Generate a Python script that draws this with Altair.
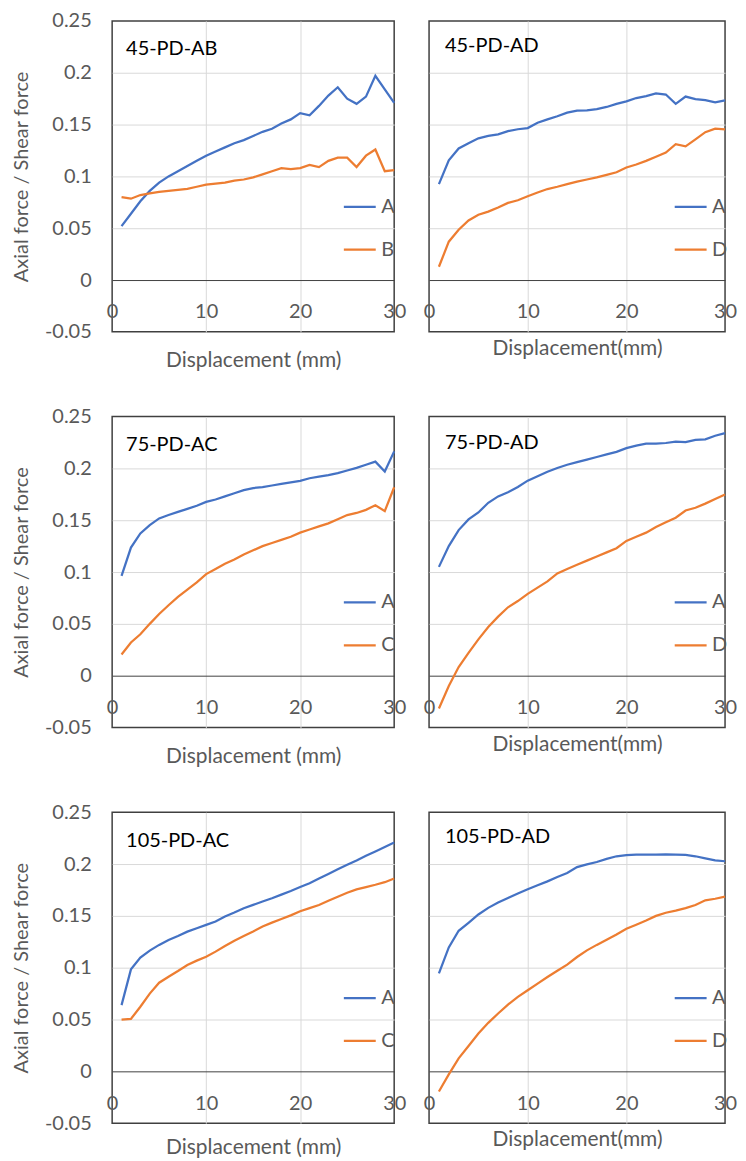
import altair as alt
import pandas as pd

disp = list(range(1, 31))

p45ab_A = [0.052, 0.064, 0.076, 0.086, 0.094, 0.100, 0.105, 0.110, 0.115, 0.120,
           0.124, 0.128, 0.132, 0.135, 0.139, 0.143, 0.146, 0.151, 0.155, 0.161,
           0.159, 0.168, 0.178, 0.186, 0.175, 0.170, 0.177, 0.197, 0.184, 0.171]
p45ab_B = [0.080, 0.0785, 0.082, 0.0836, 0.085, 0.086, 0.087, 0.088, 0.090, 0.092,
           0.093, 0.094, 0.096, 0.097, 0.099, 0.102, 0.105, 0.108, 0.107, 0.108,
           0.111, 0.109, 0.115, 0.118, 0.118, 0.109, 0.120, 0.126, 0.105, 0.106]

p45ad_A = [0.0926, 0.1156, 0.127, 0.132, 0.1367, 0.139, 0.1405, 0.1437, 0.1455, 0.1466,
           0.1517, 0.155, 0.158, 0.1615, 0.1635, 0.1637, 0.165, 0.167, 0.170, 0.1724,
           0.1756, 0.1775, 0.180, 0.179, 0.170, 0.177, 0.1745, 0.1735, 0.1715, 0.1734]
p45ad_D = [0.0128, 0.037, 0.0485, 0.0575, 0.063, 0.066, 0.070, 0.0744, 0.077, 0.0808,
           0.0845, 0.0878, 0.090, 0.0925, 0.095, 0.097, 0.099, 0.1015, 0.104, 0.1086,
           0.1115, 0.115, 0.119, 0.123, 0.131, 0.129, 0.1357, 0.1427, 0.146, 0.1453]

p75ac_A = [0.0963, 0.1236, 0.1373, 0.1453, 0.1517, 0.155, 0.158, 0.161, 0.164, 0.1677,
           0.170, 0.173, 0.176, 0.179, 0.181, 0.182, 0.1835, 0.185, 0.1865, 0.188,
           0.1905, 0.192, 0.1935, 0.1955, 0.198, 0.2005, 0.2035, 0.2065, 0.197, 0.2164]
p75ac_C = [0.0205, 0.032, 0.040, 0.050, 0.0595, 0.068, 0.076, 0.083, 0.090, 0.098,
           0.103, 0.108, 0.112, 0.117, 0.121, 0.125, 0.128, 0.131, 0.134, 0.138,
           0.141, 0.144, 0.147, 0.151, 0.155, 0.157, 0.160, 0.1645, 0.1588, 0.1818]

p75ad_A = [0.105, 0.125, 0.1405, 0.1508, 0.1575, 0.1668, 0.173, 0.177, 0.182, 0.1882,
           0.1925, 0.1967, 0.2004, 0.2035, 0.206, 0.2085, 0.211, 0.2135, 0.216, 0.2196,
           0.222, 0.2238, 0.224, 0.2245, 0.2258, 0.2254, 0.2275, 0.228, 0.2315, 0.234]
p75ad_D = [-0.0317, -0.010, 0.0083, 0.022, 0.035, 0.047, 0.057, 0.066, 0.072, 0.079,
           0.085, 0.091, 0.0986, 0.103, 0.107, 0.111, 0.115, 0.119, 0.123, 0.130,
           0.134, 0.138, 0.1434, 0.148, 0.1524, 0.1594, 0.162, 0.166, 0.1705, 0.1748]

p105ac_A = [0.0639, 0.0984, 0.1097, 0.1165, 0.122, 0.1268, 0.1306, 0.1348, 0.138, 0.1413,
            0.1445, 0.1494, 0.1532, 0.1574, 0.1606, 0.1639, 0.167, 0.1705, 0.174, 0.1778,
            0.1815, 0.186, 0.1905, 0.195, 0.1993, 0.2035, 0.208, 0.2122, 0.2165, 0.2208]
p105ac_C = [0.050, 0.0506, 0.0623, 0.075, 0.0855, 0.0913, 0.0968, 0.1026, 0.1068, 0.1106,
            0.1155, 0.121, 0.126, 0.1306, 0.135, 0.1397, 0.1435, 0.147, 0.1505, 0.1544,
            0.1575, 0.1605, 0.1645, 0.1685, 0.1723, 0.1755, 0.1778, 0.180, 0.1825, 0.186]

p105ad_A = [0.0945, 0.1196, 0.1356, 0.1433, 0.1513, 0.1577, 0.1628, 0.1673, 0.1715, 0.1757,
            0.1795, 0.1833, 0.1875, 0.1913, 0.197, 0.1997, 0.202, 0.205, 0.2075, 0.2085,
            0.209, 0.209, 0.209, 0.2094, 0.209, 0.2088, 0.2075, 0.2055, 0.2035, 0.2027]
p105ad_D = [-0.0195, -0.003, 0.0125, 0.0244, 0.0365, 0.0468, 0.0558, 0.0644, 0.0718, 0.0782,
            0.0846, 0.091, 0.0971, 0.1029, 0.1103, 0.1167, 0.122, 0.127, 0.132, 0.1375,
            0.1415, 0.1455, 0.150, 0.153, 0.155, 0.1575, 0.1605, 0.165, 0.1665, 0.1685]

y_ticks = [-0.05, 0, 0.05, 0.1, 0.15, 0.2, 0.25]
x_ticks = [0, 10, 20, 30]

BLUE = "#4472C4"
ORANGE = "#ED7D31"
GRAY = "#595959"
FRAME = "#404040"
GRID = "#D9D9D9"
FONT = "Lato"
FS = 20


def panel(name, second, a, b, left, xtitle, width, title_x, title_y, leg_x, leg_y,
          xtitle_y):
    df = pd.DataFrame({
        "d": disp + disp,
        "v": a + b,
        "s": ["A"] * len(a) + [second] * len(b),
    })
    xaxis = alt.Axis(values=x_ticks, grid=True, gridColor=GRID,
                     gridOpacity={"condition": {"test": "datum.value == 0 || datum.value == 30",
                                                "value": 0}, "value": 1},
                     domain=True, domainColor=FRAME, domainWidth=1,
                     ticks=False, tickSize=0, offset=-52,
                     labelFlush=False, labelPadding=22, labelFontSize=FS,
                     labelColor=GRAY, labelFont=FONT,
                     titleFontSize=21, titleColor=GRAY, titleFont=FONT,
                     titleFontWeight="normal", titleY=xtitle_y,
                     titleBaseline="middle")
    ygrid = {"condition": {"test": "datum.value < -0.04 || datum.value > 0.24 || datum.value == 0",
                           "value": 0}, "value": 1}
    if left:
        yaxis = alt.Axis(values=y_ticks, grid=True, gridColor=GRID, gridOpacity=ygrid,
                         domain=False, ticks=False, tickSize=0,
                         labelExpr="'' + datum.value", labelPadding=21,
                         labelFontSize=FS, labelColor=GRAY, labelFont=FONT,
                         titleFontSize=FS, titleColor=GRAY, titleFont=FONT,
                         titleFontWeight="normal", titleX=-91,
                         titleBaseline="middle")
        ytitle = "Axial force / Shear force"
    else:
        yaxis = alt.Axis(values=y_ticks, grid=True, gridColor=GRID, gridOpacity=ygrid,
                         domain=False, ticks=False, tickSize=0, labels=False)
        ytitle = None
    lines = alt.Chart(df).mark_line(strokeWidth=2.25).encode(
        x=alt.X("d:Q", title=xtitle,
                scale=alt.Scale(domain=[0, 30], nice=False, zero=False),
                axis=xaxis),
        y=alt.Y("v:Q", title=ytitle,
                scale=alt.Scale(domain=[-0.05, 0.25], nice=False),
                axis=yaxis),
        color=alt.Color("s:N",
                        scale=alt.Scale(domain=["A", second], range=[BLUE, ORANGE]),
                        legend=alt.Legend(orient="none", legendX=leg_x, legendY=leg_y,
                                          title=None, direction="vertical",
                                          symbolType="stroke", symbolSize=1024,
                                          symbolStrokeWidth=2.25, labelFontSize=FS,
                                          labelColor=GRAY, labelFont=FONT,
                                          labelOffset=4, rowPadding=15, padding=0)),
    )
    label = alt.Chart(pd.DataFrame({"t": [name]})).mark_text(
        align="left", baseline="middle", fontSize=FS, font=FONT, color="#000000"
    ).encode(text="t:N", x=alt.value(title_x), y=alt.value(title_y))
    return alt.layer(lines, label).properties(
        width=width, height=312,
        view=alt.ViewBackground(stroke=FRAME, strokeWidth=1.5),
    )


LW, RW = 283, 297


def row(left_args, right_args):
    return alt.hconcat(
        panel(*left_args), panel(*right_args), spacing=15
    ).resolve_scale(color="independent")


row1 = row(("45-PD-AB", "B", p45ab_A, p45ab_B, True, "Displacement (mm)", LW, 14, 28, 231, 169, 81),
           ("45-PD-AD", "D", p45ad_A, p45ad_D, False, "Displacement(mm)", RW, 16, 25, 245, 169, 69))
row2 = row(("75-PD-AC", "C", p75ac_A, p75ac_C, True, "Displacement (mm)", LW, 14, 29, 231, 169, 81),
           ("75-PD-AD", "D", p75ad_A, p75ad_D, False, "Displacement(mm)", RW, 16, 27, 245, 169, 69))
row3 = row(("105-PD-AC", "C", p105ac_A, p105ac_C, True, "Displacement (mm)", LW, 14, 29, 231, 169, 76),
           ("105-PD-AD", "D", p105ad_A, p105ad_D, False, "Displacement(mm)", RW, 16, 25, 245, 169, 68))

chart = alt.vconcat(row1, row2, row3, spacing=34).resolve_scale(
    color="independent"
).properties(
    padding={"left": 2.5, "top": 0, "right": 0, "bottom": 0},
    background="white",
)

chart.save("out.html", embed_options={"renderer": "svg", "actions": False})
